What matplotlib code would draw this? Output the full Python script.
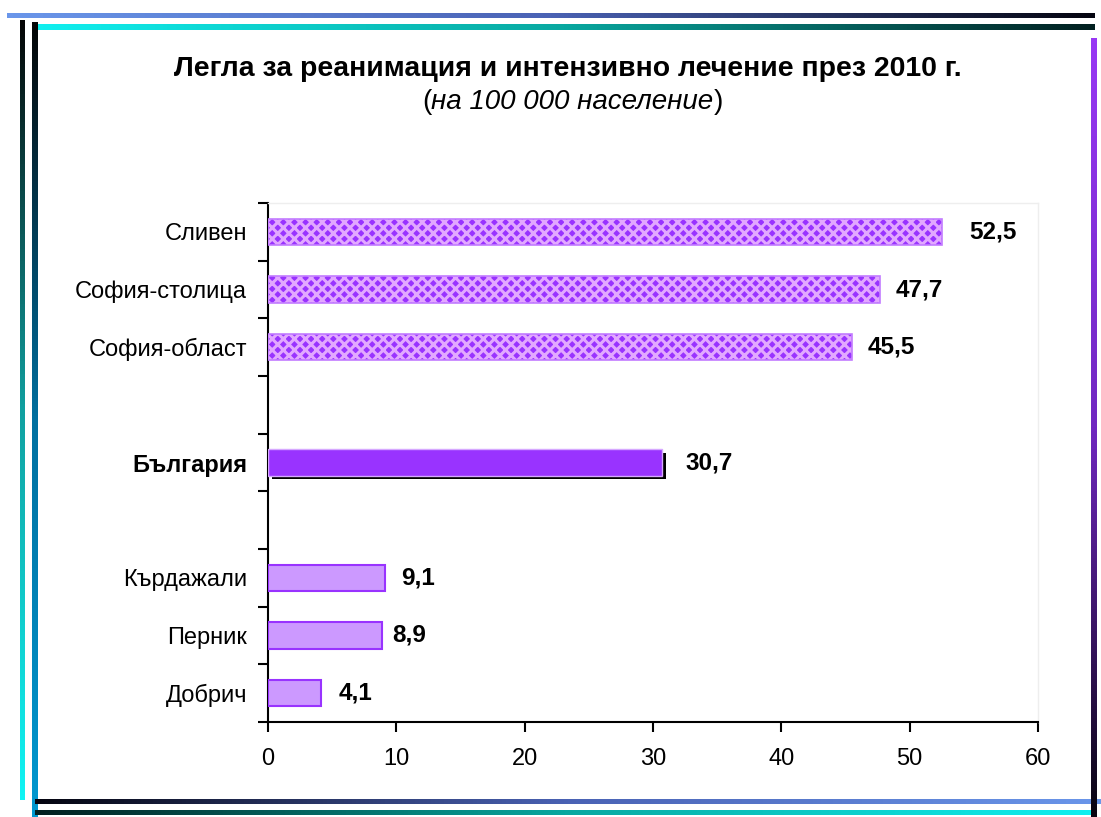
import numpy as np
import matplotlib
matplotlib.use('Agg')
import matplotlib.pyplot as plt
import matplotlib.patheffects as pe
from matplotlib.colors import LinearSegmentedColormap

# Donnees du graphique
regions_haut = ['Сливен', 'София-столица', 'София-област']
valeurs_haut = [52.5, 47.7, 45.5]
pays = 'България'
valeur_pays = 30.7
regions_bas = ['Кърдажали', 'Перник', 'Добрич']
valeurs_bas = [9.1, 8.9, 4.1]
x_ticks = [0, 10, 20, 30, 40, 50, 60]

titre = 'Легла за реанимация и интензивно лечение през 2010 г.'
sous_titre = 'на 100 000 население'

plt.rcParams['font.family'] = ['Liberation Sans', 'DejaVu Sans']
plt.rcParams['hatch.linewidth'] = 2.2

fig = plt.figure(figsize=(11.01, 8.17), dpi=100)
fig.patch.set_facecolor('white')

# Cadre decoratif (bandes en degrade)
deco = fig.add_axes([0, 0, 1, 1])
deco.axis('off')


def bande(x0, x1, y0, y1, couleurs, vertical=False):
    cmap = LinearSegmentedColormap.from_list('d', couleurs)
    g = np.linspace(0, 1, 256)
    img = g[:, None] if vertical else g[None, :]
    deco.imshow(img, cmap=cmap, extent=[x0, x1, y1, y0], aspect='auto',
                interpolation='bilinear')


bande(7, 1095, 13, 18, ['#6a96ea', '#4a62b4', '#050510'])
bande(33, 1095, 24, 30, ['#10f0f0', '#08a8a0', '#022020'])
bande(20, 25, 20, 800, ['#050505', '#10a0a0', '#10f4f4'], vertical=True)
bande(32, 38, 22, 817, ['#050505', '#0070a0', '#0098d0'], vertical=True)
bande(35, 1101, 799, 804, ['#050510', '#4a62b4', '#6a96ea'])
bande(35, 1095, 810, 815, ['#022020', '#08a8a0', '#10f0f0'])
bande(1091, 1097, 38, 817, ['#9838f4', '#7028c0', '#080410'], vertical=True)
deco.set_xlim(0, 1101)
deco.set_ylim(817, 0)

# Titre
fig.text(0.516, 0.915, titre, ha='center', va='center', fontsize=20.4, fontweight='bold')
t_it = fig.text(0.52, 0.875, sous_titre, ha='center', va='center', fontsize=20,
                style='italic')
fig.canvas.draw()
bb = t_it.get_window_extent().transformed(fig.transFigure.inverted())
fig.text(bb.x0, 0.875, '(', ha='right', va='center', fontsize=20)
fig.text(bb.x1, 0.875, ')', ha='left', va='center', fontsize=20)

# Graphique principal
ax = fig.add_axes([0.2434, 0.1163, 0.6994, 0.6352])

pos_haut = [0, 1, 2]
pos_pays = 4
pos_bas = [6, 7, 8]

violet = '#9933ff'
ax.barh(pos_haut, valeurs_haut, height=0.46, color=violet, edgecolor='#e2a8ff',
        hatch='xxx', linewidth=0, zorder=3)
ax.barh(pos_haut, valeurs_haut, height=0.46, color='none', edgecolor='#c27cff',
        linewidth=1.2, zorder=4)
barre = ax.barh([pos_pays], [valeur_pays], height=0.46, color=violet, edgecolor='#d6a8ff',
                linewidth=1.0, zorder=3)
for p in barre:
    p.set_path_effects([pe.SimplePatchShadow(offset=(3, -2.5), shadow_rgbFace='black', alpha=1.0),
                        pe.Normal()])
ax.barh(pos_bas, valeurs_bas, height=0.46, color='#cc99ff', edgecolor=violet,
        linewidth=1.5, zorder=3)

# Etiquettes de valeurs (ecart en points apres la barre)
def fmt(v):
    return ('%.1f' % v).replace('.', ',')

ecarts_haut = [20, 11, 11]
ecart_pays = 17
ecarts_bas = [12, 7, 13]

for p, v, e in zip(pos_haut, valeurs_haut, ecarts_haut):
    ax.annotate(fmt(v), (v, p), xytext=(e, 0), textcoords='offset points',
                va='center', ha='left', fontsize=17.5, fontweight='bold')
ax.annotate(fmt(valeur_pays), (valeur_pays, pos_pays), xytext=(ecart_pays, 0),
            textcoords='offset points', va='center', ha='left', fontsize=17.5,
            fontweight='bold')
for p, v, e in zip(pos_bas, valeurs_bas, ecarts_bas):
    ax.annotate(fmt(v), (v, p), xytext=(e, 0), textcoords='offset points',
                va='center', ha='left', fontsize=17.5, fontweight='bold')

ax.set_xlim(0, 60)
ax.set_ylim(8.5, -0.5)
ax.set_xticks(x_ticks)
ax.set_xticklabels([str(t) for t in x_ticks], fontsize=17)

ax.set_yticks(pos_haut + [pos_pays] + pos_bas)
ax.set_yticklabels(regions_haut + [pays] + regions_bas, fontsize=17)
for lbl in ax.get_yticklabels():
    if lbl.get_text() == pays:
        lbl.set_fontweight('bold')
ax.set_yticks(np.arange(-0.5, 9.0, 1.0), minor=True)
ax.tick_params(axis='y', which='major', length=0, pad=15)
ax.tick_params(axis='y', which='minor', length=7, width=1.5, direction='out')
ax.tick_params(axis='x', length=7, width=1.5, direction='out', pad=12)

for s in ['left', 'bottom']:
    ax.spines[s].set_linewidth(1.5)
for s in ['top', 'right']:
    ax.spines[s].set_color('#eeeeee')
    ax.spines[s].set_linewidth(1.0)

fig.savefig('out.png', dpi=100, facecolor='white')
